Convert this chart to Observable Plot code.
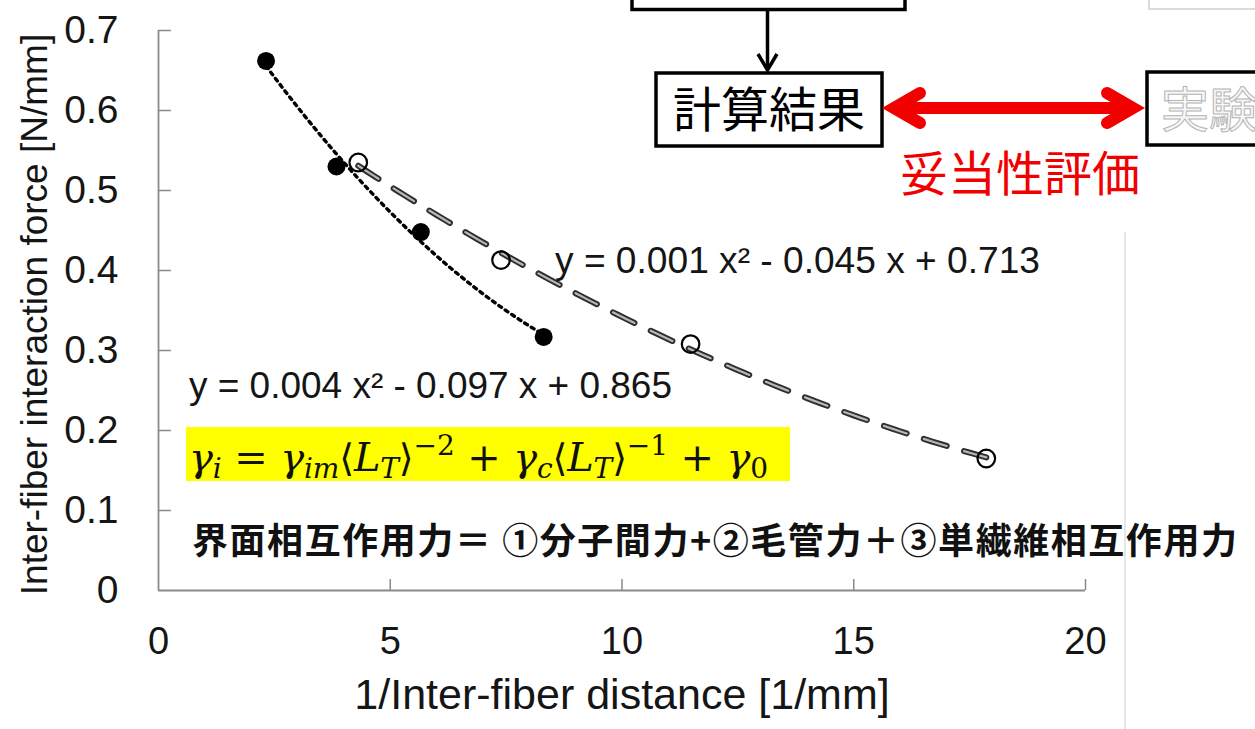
<!DOCTYPE html>
<html>
<head>
<meta charset="utf-8">
<script src="https://cdn.jsdelivr.net/npm/d3@7"></script>
<script src="https://cdn.jsdelivr.net/npm/@observablehq/plot@0.6"></script>
<style>
  html, body { margin: 0; padding: 0; background: #fff; }
  #wrap { position: relative; width: 1255px; height: 729px; overflow: hidden; background: #fff; }
  #wrap svg { position: absolute; left: 0; top: 0; }
</style>
</head>
<body>
<div id="wrap"></div>
<script>
// Axis ticks
const xTicks = [0, 5, 10, 15, 20];
const yTicks = [0, 0.1, 0.2, 0.3, 0.4, 0.5, 0.6, 0.7];

// Series 1 (filled markers, dotted trendline)
const filledX = [2.32, 3.84, 5.66, 8.31];
const filledY = [0.662, 0.530, 0.448, 0.317];

// Series 2 (open markers, dashed trendline)
const openX = [4.31, 7.39, 11.48, 17.86];
const openY = [0.535, 0.413, 0.308, 0.165];

// Text
const xTitle = "1/Inter-fiber distance [1/mm]";
const yTitle = "Inter-fiber interaction force [N/mm]";
const eqFilled = "y = 0.004 x² - 0.097 x + 0.865";
const eqOpen = "y = 0.001 x² - 0.045 x + 0.713";
const noteJa = "界面相互作用力＝ ①分子間力+②毛管力＋③単繊維相互作用力";
const boxCalc = "計算結果";
const boxExp = "実験";
const arrowLabel = "妥当性評価";

const filled = filledX.map((x, i) => ({x, y: filledY[i]}));
const open = openX.map((x, i) => ({x, y: openY[i]}));

// Least-squares quadratic trendline through a series
function quadFit(pts) {
  const s = [0, 0, 0, 0, 0], t = [0, 0, 0];
  for (const {x, y} of pts) {
    for (let k = 0; k < 5; k++) s[k] += x ** k;
    for (let k = 0; k < 3; k++) t[k] += y * x ** k;
  }
  const A = [[s[0], s[1], s[2], t[0]], [s[1], s[2], s[3], t[1]], [s[2], s[3], s[4], t[2]]];
  for (let i = 0; i < 3; i++)
    for (let j = i + 1; j < 3; j++) {
      const f = A[j][i] / A[i][i];
      for (let k = i; k < 4; k++) A[j][k] -= f * A[i][k];
    }
  const c = [0, 0, 0];
  for (let i = 2; i >= 0; i--) {
    let v = A[i][3];
    for (let k = i + 1; k < 3; k++) v -= A[i][k] * c[k];
    c[i] = v / A[i][i];
  }
  return x => c[0] + c[1] * x + c[2] * x * x;
}
function trend(pts, n = 80) {
  const f = quadFit(pts);
  const [x0, x1] = d3.extent(pts, d => d.x);
  return d3.range(n + 1).map(i => { const x = x0 + (x1 - x0) * i / n; return {x, y: f(x)}; });
}
const trendFilled = trend(filled);
const trendOpen = trend(open);

const axisGray = "#8a8a8a";
const sans = '"Liberation Sans", Arial, sans-serif';

const chart = Plot.plot({
  width: 1255,
  height: 729,
  marginLeft: 158,
  marginRight: 170,
  marginTop: 30,
  marginBottom: 139,
  style: {fontFamily: sans, color: "#151515", background: "transparent", overflow: "visible"},
  x: {domain: [0, 20], ticks: xTicks},
  y: {domain: [0, 0.7], ticks: yTicks},
  marks: [
    Plot.axisX(xTicks, {tickSize: 0, tickPadding: 37, fontSize: 38, label: null, tickFormat: d => String(d)}),
    Plot.axisY(yTicks, {tickSize: 0, tickPadding: 40, fontSize: 39, label: null, tickFormat: d => d === 0 ? "0" : d.toFixed(1)}),
    Plot.tickX(xTicks.slice(1), {x: d => d, insetTop: 549, stroke: axisGray, strokeWidth: 1.5}),
    Plot.tickY(yTicks.slice(1), {y: d => d, insetRight: 914, stroke: axisGray, strokeWidth: 1.5}),
    Plot.ruleY([0], {stroke: axisGray, strokeWidth: 1.8}),
    Plot.ruleX([0], {stroke: axisGray, strokeWidth: 1.8}),
    // dashed trendline drawn as outlined dashes
    Plot.line(trendOpen, {x: "x", y: "y", stroke: "#2e2e2e", strokeWidth: 6, strokeDasharray: "24,18", strokeLinecap: "round"}),
    Plot.line(trendOpen, {x: "x", y: "y", stroke: "#b8b8b8", strokeWidth: 2.2, strokeDasharray: "24,18", strokeLinecap: "round"}),
    // dotted trendline
    Plot.line(trendFilled, {x: "x", y: "y", stroke: "#000", strokeWidth: 3.4, strokeDasharray: "3.2,4.6"}),
    Plot.dot(open, {x: "x", y: "y", r: 8.8, stroke: "#000", strokeWidth: 2.2, fill: "none"}),
    Plot.dot(filled, {x: "x", y: "y", r: 9, fill: "#000", stroke: "none"}),
    Plot.text([yTitle], {frameAnchor: "left", dx: -123, dy: 4, rotate: -90, fontSize: 37, textAnchor: "middle", lineAnchor: "middle"}),
    Plot.text([xTitle], {frameAnchor: "bottom", dy: 105, fontSize: 43, textAnchor: "middle", lineAnchor: "middle"})
  ]
});
document.getElementById("wrap").appendChild(chart);

// Annotation layer: trendline equations, formula, note and the flow diagram
const ov = d3.select("#wrap").append("svg")
  .attr("width", 1255).attr("height", 729)
  .style("pointer-events", "none");

// faint slide edge
ov.append("line").attr("x1", 1125).attr("x2", 1125).attr("y1", 232).attr("y2", 729)
  .attr("stroke", "#e6e6e6").attr("stroke-width", 2);

ov.append("text").attr("x", 555).attr("y", 273)
  .attr("font-family", sans).attr("font-size", 36).attr("fill", "#151515")
  .attr("textLength", 485).attr("lengthAdjust", "spacingAndGlyphs").text(eqOpen);
ov.append("text").attr("x", 189).attr("y", 398)
  .attr("font-family", sans).attr("font-size", 36).attr("fill", "#151515")
  .attr("textLength", 483).attr("lengthAdjust", "spacingAndGlyphs").text(eqFilled);

// highlighted model formula
ov.append("rect").attr("x", 186).attr("y", 427).attr("width", 604).attr("height", 54).attr("fill", "#ffff00");
const f = ov.append("text").attr("x", 189).attr("y", 471)
  .attr("font-family", '"DejaVu Serif", "Liberation Serif", serif').attr("font-size", 40).attr("fill", "#111")
  .attr("textLength", 579).attr("lengthAdjust", "spacing");
const parts = [
  ["γ", "i"], ["i", "s"], [" = ", "n"], ["γ", "i"], ["im", "s"], ["⟨", "m"], ["L", "i"], ["T", "s"], ["⟩", "m"], ["−2", "p"],
  [" + ", "n"], ["γ", "i"], ["c", "s"], ["⟨", "m"], ["L", "i"], ["T", "s"], ["⟩", "m"], ["−1", "p"],
  [" + ", "n"], ["γ", "i"], ["0", "z"]
];
for (const [s, k] of parts) {
  const t = f.append("tspan").text(s);
  if (k === "i") t.attr("font-style", "italic");
  if (k === "s") t.attr("font-style", "italic").attr("font-size", 28).attr("baseline-shift", -7);
  if (k === "z") t.attr("font-size", 28).attr("baseline-shift", -7);
  if (k === "p") t.attr("font-size", 28).attr("baseline-shift", 16);
  if (k === "m") t.attr("font-family", '"DejaVu Sans", sans-serif').attr("font-size", 38);
}
f.attr("xml:space", "preserve").style("white-space", "pre");

ov.append("text").attr("x", 192).attr("y", 538).attr("dominant-baseline", "central")
  .attr("font-family", '"Noto Sans CJK JP", sans-serif').attr("font-weight", 700).attr("font-size", 36)
  .attr("fill", "#111").attr("textLength", 1045).attr("lengthAdjust", "spacing").text(noteJa);

// flow diagram
const cjk = '"Noto Sans CJK JP", sans-serif';
ov.append("rect").attr("x", 632).attr("y", -20).attr("width", 273).attr("height", 29.5)
  .attr("fill", "#fff").attr("stroke", "#000").attr("stroke-width", 3.5);
ov.append("line").attr("x1", 767.5).attr("x2", 767.5).attr("y1", 10).attr("y2", 70)
  .attr("stroke", "#000").attr("stroke-width", 3.5);
ov.append("path").attr("d", "M758,54L767.5,70L777,54").attr("fill", "none")
  .attr("stroke", "#000").attr("stroke-width", 3.5);
ov.append("rect").attr("x", 656).attr("y", 73).attr("width", 226).attr("height", 73)
  .attr("fill", "#fff").attr("stroke", "#000").attr("stroke-width", 3.5);
ov.append("text").attr("x", 769).attr("y", 106).attr("text-anchor", "middle").attr("dominant-baseline", "central")
  .attr("font-family", cjk).attr("font-size", 48).attr("fill", "#000").text(boxCalc);

// double-headed red arrow
const red = "#f20000";
ov.append("line").attr("x1", 894).attr("x2", 1133).attr("y1", 108).attr("y2", 108)
  .attr("stroke", red).attr("stroke-width", 12);
ov.append("path").attr("d", "M920,93L894,108L920,123").attr("fill", "none").attr("stroke", red)
  .attr("stroke-width", 12).attr("stroke-linecap", "round").attr("stroke-linejoin", "miter");
ov.append("path").attr("d", "M1107,93L1133,108L1107,123").attr("fill", "none").attr("stroke", red)
  .attr("stroke-width", 12).attr("stroke-linecap", "round").attr("stroke-linejoin", "miter");
ov.append("text").attr("x", 1020).attr("y", 170).attr("text-anchor", "middle").attr("dominant-baseline", "central")
  .attr("font-family", cjk).attr("font-size", 48).attr("fill", red).text(arrowLabel);

ov.append("rect").attr("x", 1147).attr("y", 72).attr("width", 140).attr("height", 73)
  .attr("fill", "#fff").attr("stroke", "#000").attr("stroke-width", 3.5);
ov.append("text").attr("x", 1161).attr("y", 106).attr("dominant-baseline", "central")
  .attr("font-family", cjk).attr("font-size", 48).attr("fill", "#f7f7f7")
  .attr("stroke", "#b5b5b5").attr("stroke-width", 1).text(boxExp);
ov.append("rect").attr("x", 1149).attr("y", -12).attr("width", 130).attr("height", 21)
  .attr("fill", "#fff").attr("stroke", "#cfcfcf").attr("stroke-width", 1.5);
</script>
</body>
</html>
